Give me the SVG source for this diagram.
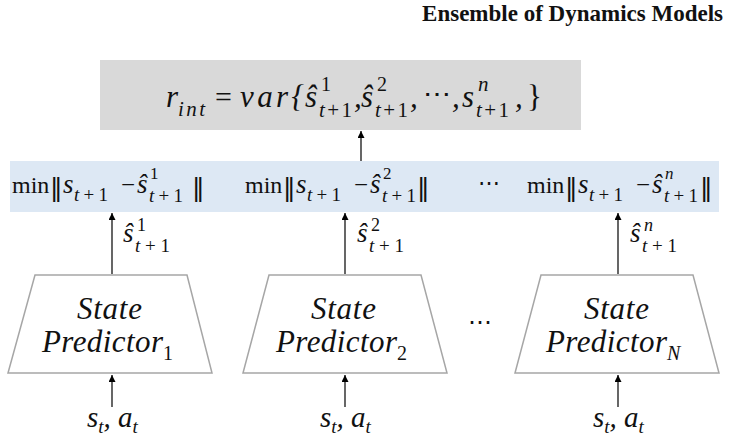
<svg xmlns="http://www.w3.org/2000/svg" width="732" height="438" viewBox="0 0 732 438">
<defs>
<marker id="ah" viewBox="0 0 10 10" refX="10" refY="5" markerWidth="7" markerHeight="7" markerUnits="userSpaceOnUse" orient="auto">
<path d="M0,0 L10,5 L0,10 z" fill="#000"/>
</marker>
<style>
.m{font-family:"Liberation Serif",serif;font-style:italic;fill:#111;}
.u{font-family:"Liberation Serif",serif;font-style:normal;fill:#111;}
.n{font-style:normal;}
.bar{font-family:"DejaVu Sans",sans-serif;font-size:25px;fill:#111;}
.trap{fill:#fff;stroke:#a6a6a6;stroke-width:1.5;}
.conn line{stroke:#000;stroke-width:1.2;marker-end:url(#ah);}
</style>
</defs>
<rect width="732" height="438" fill="#fff"/>
<text x="723" y="21" text-anchor="end" font-family="Liberation Serif, serif" font-weight="bold" font-size="23" fill="#111">Ensemble of Dynamics Models</text>

<g id="variance">
<rect x="100" y="60" width="481" height="70" fill="#d9d9d9"/>
<text class="m" font-size="31" x="166" y="107">r</text>
<text class="m" font-size="21" x="178" y="116" textLength="27">int</text>
<text class="u" font-size="30" x="215" y="107">=</text>
<text class="m" font-size="31" x="240" y="107" textLength="64">var{</text>
<text class="m" font-size="31" x="305" y="107">ŝ</text>
<text class="u" font-size="20" x="321" y="91">1</text>
<text class="m" font-size="21" x="319" y="117" textLength="33">t<tspan class="n">+1</tspan></text>
<text class="m" font-size="31" x="354" y="107">,</text>
<text class="m" font-size="31" x="361" y="107">ŝ</text>
<text class="u" font-size="20" x="377" y="91">2</text>
<text class="m" font-size="21" x="375" y="117" textLength="33">t<tspan class="n">+1</tspan></text>
<text class="m" font-size="31" x="410" y="107">,</text>
<text class="u" font-size="28" x="423" y="103">⋯</text>
<text class="m" font-size="31" x="452" y="107">,</text>
<text class="m" font-size="31" x="462" y="107">s</text>
<text class="m" font-size="21" x="478" y="91">n</text>
<text class="m" font-size="21" x="476" y="117" textLength="33">t<tspan class="n">+1</tspan></text>
<text class="m" font-size="31" x="515" y="107">,</text>
<text class="u" font-size="31" x="527" y="107">}</text>
</g>

<g id="errors">
<rect x="10" y="161" width="709" height="51" fill="#dde8f4"/>
<g id="err1">
<text class="u" x="12" y="193" font-size="24">min</text>
<text class="bar" x="50" y="196">‖</text>
<text class="m" font-size="27" x="63" y="193">s</text>
<text class="m" font-size="19" x="74" y="201" textLength="34">t<tspan class="n">+1</tspan></text>
<text class="u" x="121" y="193" font-size="25">−</text>
<text class="m" font-size="27" x="137" y="193">ŝ</text>
<text class="u" font-size="17" x="150" y="179">1</text>
<text class="m" font-size="19" x="149" y="202" textLength="34">t<tspan class="n">+1</tspan></text>
<text class="bar" x="192" y="196">‖</text>
</g>
<g id="err2">
<text class="u" x="245" y="193" font-size="24">min</text>
<text class="bar" x="283" y="196">‖</text>
<text class="m" font-size="27" x="296" y="193">s</text>
<text class="m" font-size="19" x="307" y="201" textLength="34">t<tspan class="n">+1</tspan></text>
<text class="u" x="354" y="193" font-size="25">−</text>
<text class="m" font-size="27" x="370" y="193">ŝ</text>
<text class="u" font-size="17" x="383" y="179">2</text>
<text class="m" font-size="19" x="382" y="202" textLength="34">t<tspan class="n">+1</tspan></text>
<text class="bar" x="417" y="196">‖</text>
</g>
<text class="u" x="478" y="190" font-size="22">⋯</text>
<g id="errN">
<text class="u" x="527" y="193" font-size="24">min</text>
<text class="bar" x="565" y="196">‖</text>
<text class="m" font-size="27" x="578" y="193">s</text>
<text class="m" font-size="19" x="589" y="201" textLength="34">t<tspan class="n">+1</tspan></text>
<text class="u" x="636" y="193" font-size="25">−</text>
<text class="m" font-size="27" x="652" y="193">ŝ</text>
<text class="m" font-size="17" x="665" y="179">n</text>
<text class="m" font-size="19" x="664" y="202" textLength="34">t<tspan class="n">+1</tspan></text>
<text class="bar" x="700" y="196">‖</text>
</g>
</g>

<g id="predictor1">
<polygon class="trap" points="35,275 187,275 212,373 8,373"/>
<text class="m" font-size="31" x="77" y="319" textLength="65">State</text>
<text class="m" font-size="31" x="42" y="352" textLength="121">Predictor</text>
<text class="u" font-size="20" x="163" y="360">1</text>
</g>
<g id="predictor2">
<polygon class="trap" points="269,275 421,275 447,373 243,373"/>
<text class="m" font-size="31" x="311" y="319" textLength="65">State</text>
<text class="m" font-size="31" x="276" y="352" textLength="121">Predictor</text>
<text class="u" font-size="20" x="397" y="360">2</text>
</g>
<text class="u" x="468" y="330" font-size="24">⋯</text>
<g id="predictorN">
<polygon class="trap" points="541,275 693,275 719,373 515,373"/>
<text class="m" font-size="31" x="584" y="319" textLength="65">State</text>
<text class="m" font-size="31" x="546" y="352" textLength="121">Predictor</text>
<text class="m" font-size="20" x="667" y="360">N</text>
</g>

<g id="labels">
<text class="m" font-size="27" x="123" y="242">ŝ</text>
<text class="u" font-size="18" x="137" y="231">1</text>
<text class="m" font-size="19" x="135" y="252" textLength="35">t<tspan class="n">+1</tspan></text>
<text class="m" font-size="27" x="357" y="242">ŝ</text>
<text class="u" font-size="18" x="371" y="231">2</text>
<text class="m" font-size="19" x="369" y="252" textLength="35">t<tspan class="n">+1</tspan></text>
<text class="m" font-size="27" x="630" y="242">ŝ</text>
<text class="m" font-size="18" x="644" y="231">n</text>
<text class="m" font-size="19" x="642" y="252" textLength="35">t<tspan class="n">+1</tspan></text>
</g>

<g id="inputs">
<text class="m" font-size="29" x="87" y="427">s<tspan font-size="19" dy="6">t</tspan><tspan dy="-6">, a</tspan><tspan font-size="19" dy="6">t</tspan></text>
<text class="m" font-size="29" x="320" y="427">s<tspan font-size="19" dy="6">t</tspan><tspan dy="-6">, a</tspan><tspan font-size="19" dy="6">t</tspan></text>
<text class="m" font-size="29" x="593" y="427">s<tspan font-size="19" dy="6">t</tspan><tspan dy="-6">, a</tspan><tspan font-size="19" dy="6">t</tspan></text>
</g>

<g id="connectors" class="conn">
<line x1="361" y1="161" x2="361" y2="131"/>
<line x1="112" y1="274" x2="112" y2="213"/>
<line x1="345" y1="274" x2="345" y2="213"/>
<line x1="618" y1="274" x2="618" y2="213"/>
<line x1="112" y1="407" x2="112" y2="375"/>
<line x1="345" y1="407" x2="345" y2="375"/>
<line x1="618" y1="407" x2="618" y2="375"/>
</g>
</svg>
